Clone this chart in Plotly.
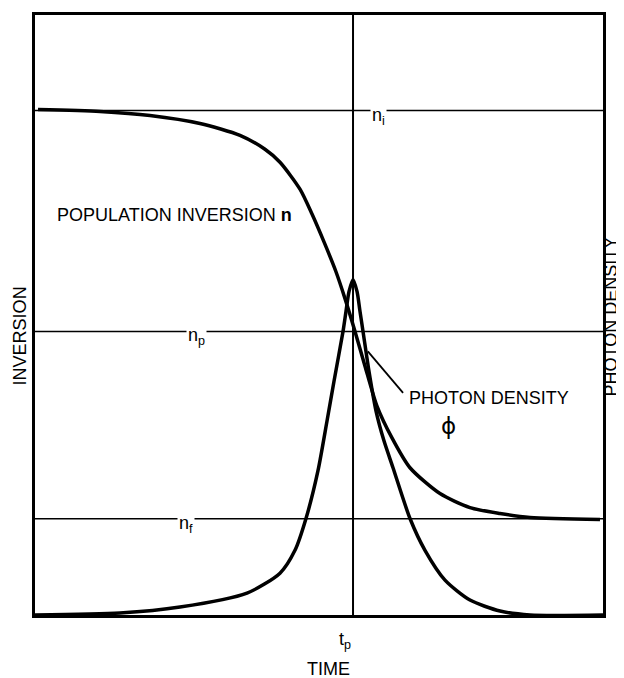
import plotly.graph_objects as go

# ---- data (arbitrary units: time 0-100, level 0-100) ----
inv_t = [0.53, 11.44, 20.25, 29.05, 36.09, 40.49, 43.13, 46.65, 48.77, 50.88, 52.99,
         54.58, 56.34, 58.10, 60.21, 62.85, 66.02, 71.30, 76.58, 81.87, 87.15, 99.47]
inv_n = [83.97, 83.64, 82.98, 81.65, 79.67, 77.36, 75.21, 70.74, 66.61, 61.98, 57.02,
         52.56, 47.11, 41.32, 34.71, 29.42, 24.46, 20.17, 17.85, 16.86, 16.20, 15.87]

ph_t = [0, 14.96, 25.53, 37.32, 43.13, 45.77, 47.71, 49.82, 51.41, 52.64, 54.23, 54.75,
        55.28, 55.99, 56.70, 57.22, 57.75, 58.80, 60.04, 61.44, 63.03, 66.02, 68.66,
        72.18, 76.58, 81.87, 87.15, 100]
ph_v = [0, 0.33, 1.32, 3.64, 6.94, 10.74, 16.03, 23.97, 32.23, 38.84, 47.11, 50.41,
        53.72, 55.70, 53.72, 50.41, 47.11, 40.50, 33.88, 28.93, 24.46, 16.03, 10.74,
        5.79, 2.48, 0.66, 0, 0]

level_names = ["n<sub>i</sub>", "n<sub>p</sub>", "n<sub>f</sub>"]
level_values = [83.8, 47.1, 16.0]
level_label_t = [60.5, 28.5, 26.5]
t_peak = 55.99

FONT = "Liberation Sans"
W, H = 624, 678
OFF = 8                       # page body margin of the html page
L, T = 35 - OFF, 12 - OFF     # plot box on the page: x 35..603, y 12..615
R, B = W - (603 - OFF), H - (615 - OFF)
Y_TOP = 99.67


def px(xp, yp):
    """page-pixel position of a text label -> paper coordinates"""
    xf, yf = xp - OFF, yp - OFF
    return (xf - L) / (W - L - R), (H - B - yf) / (H - T - B)


fig = go.Figure()

for v in level_values:
    fig.add_trace(go.Scatter(x=[0, 100], y=[v, v], mode="lines",
                             line=dict(color="black", width=1.5),
                             hoverinfo="skip", showlegend=False))
fig.add_trace(go.Scatter(x=[t_peak, t_peak], y=[0, Y_TOP], mode="lines",
                         line=dict(color="black", width=2),
                         hoverinfo="skip", showlegend=False))

fig.add_trace(go.Scatter(x=inv_t, y=inv_n, mode="lines",
                         line=dict(color="black", width=3.5, shape="spline", smoothing=0.7),
                         showlegend=False, name="Population inversion"))
fig.add_trace(go.Scatter(x=ph_t, y=ph_v, mode="lines",
                         line=dict(color="black", width=3.5, shape="spline", smoothing=0.7),
                         showlegend=False, name="Photon density"))

annotations = []
for name, v, t in zip(level_names, level_values, level_label_t):
    annotations.append(dict(x=t, y=v, text=name, showarrow=False, bgcolor="white",
                            font=dict(family=FONT, size=18, color="black"),
                            xanchor="center", yanchor="top", yshift=8, borderpad=1))


def lab(xp, yp, text, size=18, xanchor="center", angle=0, family=FONT):
    xx, yy = px(xp, yp)
    return dict(xref="paper", yref="paper", x=xx, y=yy, text=text, showarrow=False,
                xanchor=xanchor, yanchor="middle", textangle=angle,
                font=dict(family=family, size=size, color="black"))


annotations += [
    lab(55, 213, "POPULATION INVERSION <b>n</b>", xanchor="left"),
    lab(407, 397, "PHOTON DENSITY", xanchor="left"),
    lab(448, 425, "ϕ", size=23, family="DejaVu Sans"),
    lab(345, 641, "t<sub>p</sub>"),
    lab(328, 669, "TIME"),
    lab(20, 335, "INVERSION", angle=-90),
    lab(611, 315, "PHOTON DENSITY", size=18, angle=-90),
]

fig.update_layout(
    width=W, height=H,
    margin=dict(l=L, r=R, t=T, b=B),
    paper_bgcolor="white", plot_bgcolor="white",
    annotations=annotations,
    shapes=[dict(type="line", xref="x", yref="y", x0=58.6, y0=43.8, x1=64.8, y1=36.9,
                 line=dict(color="black", width=1.8))],
)
fig.update_xaxes(range=[0, 100], showgrid=False, zeroline=False, showticklabels=False,
                 ticks="", showline=True, linecolor="black", linewidth=2.5, mirror=True)
fig.update_yaxes(range=[0, Y_TOP], showgrid=False, zeroline=False, showticklabels=False,
                 ticks="", showline=True, linecolor="black", linewidth=2.5, mirror=True)

fig.write_html("out.html")
